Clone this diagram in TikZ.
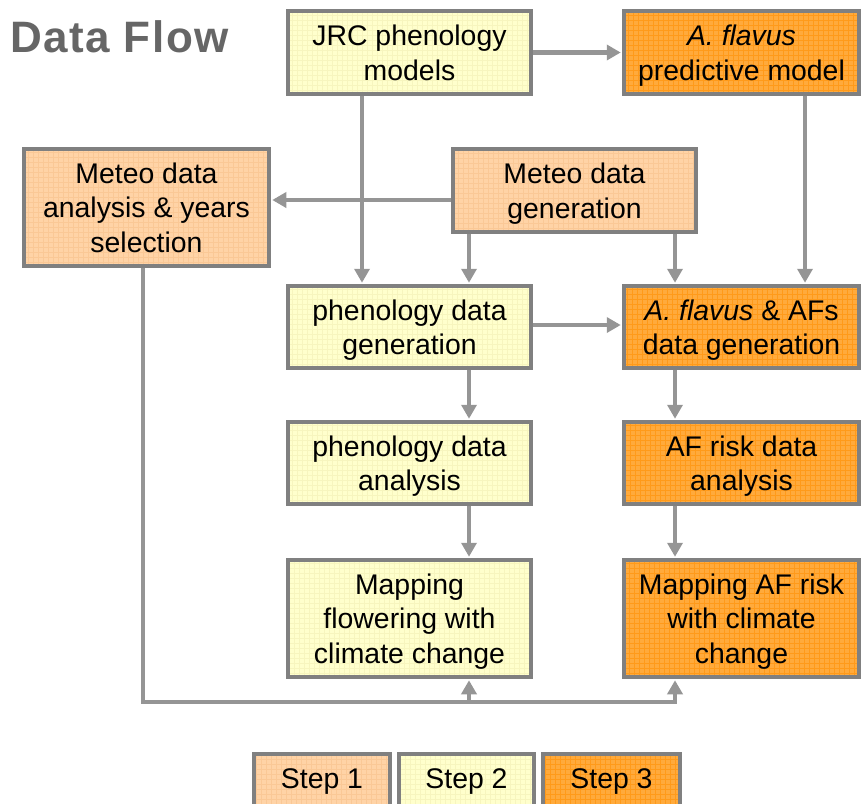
\documentclass[tikz,border=0pt]{standalone}
\usepackage{fontspec}
\setmainfont{Liberation Sans}
\newfontfamily\titlefont[LetterSpace=3.5]{Liberation Sans}
\usetikzlibrary{arrows.meta}
\definecolor{sOne}{HTML}{FFD3A6}
\definecolor{sOneG}{HTML}{FAC896}
\definecolor{sTwo}{HTML}{FFFFCC}
\definecolor{sTwoG}{HTML}{F7F5BE}
\definecolor{sThree}{HTML}{FFAA3C}
\definecolor{sThreeG}{HTML}{FF9A1A}
\definecolor{bord}{HTML}{808080}
\definecolor{conncol}{HTML}{959595}
\definecolor{titlecol}{HTML}{666666}
\tikzset{
  box/.style={draw=bord, line width=3.5pt, rectangle, inner sep=0pt, align=center,
    font=\fontsize{28.4}{34.5}\selectfont, text=black, text depth=0pt},
  gridded/.style={path picture={\draw[#1, line width=0.7pt]
    (path picture bounding box.south west) grid[step=5pt] (path picture bounding box.north east);}},
  stepone/.style={box, fill=sOne, gridded=sOneG},
  steptwo/.style={box, fill=sTwo, gridded=sTwoG},
  stepthree/.style={box, fill=sThree, gridded=sThreeG},
  legendbox/.style={text depth={}},
  conn/.style={draw=conncol, line width=4.5pt, line join=miter, shorten >=1.5pt,
    -{Triangle[length=14pt,width=15pt]}}
}
\begin{document}
\begin{tikzpicture}[x=1pt,y=-1pt]
\useasboundingbox (0,0) rectangle (861,803);
% title
\node[anchor=base west, inner sep=0pt, text=titlecol, font=\titlefont\bfseries\fontsize{44}{50}\selectfont] (title) at (10,52) {Data Flow};
% boxes
\node[steptwo, minimum width=243pt, minimum height=83pt] (jrc) at (409.5,52.5) {JRC phenology\\models};
\node[stepthree, minimum width=235pt, minimum height=83pt] (pred) at (741.5,52.5) {\textit{A. flavus}\\predictive model};
\node[stepone, minimum width=245pt, minimum height=117pt] (man) at (146.5,207.5) {Meteo data\\analysis \& years\\selection};
\node[stepone, minimum width=243pt, minimum height=83pt] (mgen) at (574.5,190.5) {Meteo data\\generation};
\node[steptwo, minimum width=243pt, minimum height=82pt] (pgen) at (409.5,327) {phenology data\\generation};
\node[stepthree, minimum width=235pt, minimum height=82pt] (afgen) at (741.5,327) {\textit{A. flavus} \& AFs\\data generation};
\node[steptwo, minimum width=243pt, minimum height=82pt] (pana) at (409.5,463) {phenology data\\analysis};
\node[stepthree, minimum width=235pt, minimum height=82pt] (afrisk) at (741.5,463) {AF risk data\\analysis};
\node[steptwo, minimum width=243pt, minimum height=117pt] (mapf) at (409.5,618.5) {Mapping\\flowering with\\climate change};
\node[stepthree, minimum width=235pt, minimum height=117pt] (mapaf) at (741.5,618.5) {Mapping AF risk\\with climate\\change};
% legend
\node[stepone, legendbox, minimum width=136pt, minimum height=56pt] (lone) at (322,782) {Step 1};
\node[steptwo, legendbox, minimum width=135pt, minimum height=56pt] (ltwo) at (466.5,782) {Step 2};
\node[stepthree, legendbox, minimum width=137pt, minimum height=56pt] (lthree) at (611.5,782) {Step 3};
% helper coordinates
\coordinate (cA) at (362,0);
\coordinate (cB) at (469,0);
\coordinate (cC) at (675,0);
\coordinate (cD) at (805,0);
\coordinate (cE) at (143,0);
\coordinate (rM) at (0,200);
\coordinate (rP) at (0,325);
\coordinate (rBot) at (0,702);
% connectors
\draw[conn] (jrc.east) -- (pred.west);
\draw[conn] (mgen.west |- rM) -- (man.east |- rM);
\draw[conn] (jrc.south -| cA) -- (pgen.north -| cA);
\draw[conn] (mgen.south -| cB) -- (pgen.north -| cB);
\draw[conn] (mgen.south -| cC) -- (afgen.north -| cC);
\draw[conn] (pred.south -| cD) -- (afgen.north -| cD);
\draw[conn] (pgen.east |- rP) -- (afgen.west |- rP);
\draw[conn] (pgen.south -| cB) -- (pana.north -| cB);
\draw[conn] (afgen.south -| cC) -- (afrisk.north -| cC);
\draw[conn] (pana.south -| cB) -- (mapf.north -| cB);
\draw[conn] (afrisk.south -| cC) -- (mapaf.north -| cC);
\draw[conn] (man.south -| cE) |- (rBot -| cC) -- (mapaf.south -| cC);
\draw[conn] (rBot -| cB) -- (mapf.south -| cB);
\end{tikzpicture}
\end{document}
